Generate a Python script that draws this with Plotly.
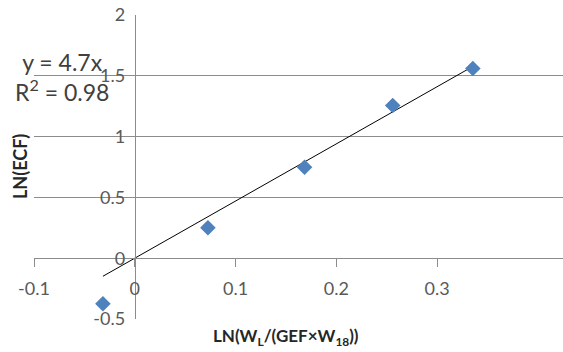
import plotly.graph_objects as go
import numpy as np

# Data
x_vals = [-0.0316, 0.0726, 0.1685, 0.256, 0.3355]
y_vals = [-0.375, 0.25, 0.748, 1.256, 1.56]
slope = 4.7
eq_text = "y = 4.7x<br>R<sup>2</sup> = 0.98"
x_ticks = [-0.1, 0, 0.1, 0.2, 0.3]
x_ticktext = ["-0.1", "0", "0.1", "0.2", "0.3"]
y_ticks = [-0.5, 0, 0.5, 1, 1.5, 2]
y_ticktext = ["-0.5", "0", "0.5", "1", "1.5", "2"]
x_title = "<b>LN(W<sub>L</sub>/(GEF×W<sub>18</sub>))</b>"
y_title = "<b>LN(ECF)</b>"

X_RANGE = [-0.1, 0.425]
Y_RANGE = [-0.5, 2.0]
FONT = "Lato"
GRID = "#8c8c8c"
TXT = "#595959"

fig = go.Figure()

# trendline through the origin, spanning the data x-range
xl = np.array([min(x_vals), max(x_vals)])
fig.add_trace(go.Scatter(x=xl, y=slope * xl, mode="lines",
                         line=dict(color="black", width=1), hoverinfo="skip"))

fig.add_trace(go.Scatter(x=x_vals, y=y_vals, mode="markers",
                         marker=dict(symbol="diamond", size=12, color="#4F81BD",
                                     line=dict(width=0))))

ypos_axis = (0 - X_RANGE[0]) / (X_RANGE[1] - X_RANGE[0])
xpos_axis = (0 - Y_RANGE[0]) / (Y_RANGE[1] - Y_RANGE[0])

fig.update_layout(
    width=563, height=352,
    margin=dict(l=34, r=0, t=15, b=33),
    paper_bgcolor="white", plot_bgcolor="white",
    showlegend=False,
    font=dict(family=FONT, color=TXT, size=18),
    xaxis=dict(range=X_RANGE, tickvals=x_ticks, ticktext=x_ticktext,
               showgrid=False, zeroline=False,
               showline=True, linecolor=GRID, linewidth=1,
               ticks="outside", ticklen=8, tickcolor=GRID, tickwidth=1,
               anchor="free", position=xpos_axis, ticklabelstandoff=6,
               tickfont=dict(family=FONT, size=18, color=TXT)),
    yaxis=dict(range=Y_RANGE, tickvals=y_ticks, ticktext=y_ticktext,
               showgrid=True, gridcolor=GRID, gridwidth=1, zeroline=False,
               showline=True, linecolor=GRID, linewidth=1, ticks="",
               anchor="free", position=ypos_axis, ticklabelstandoff=6,
               tickfont=dict(family=FONT, size=18, color=TXT)),
)

fig.add_annotation(text=x_title, xref="paper", yref="paper",
                   x=(286 - 34) / 529, y=(352 - 337 - 33) / 304,
                   showarrow=False, font=dict(family=FONT, size=17, color="#262626"),
                   xanchor="center", yanchor="middle")
fig.add_annotation(text=y_title, xref="paper", yref="paper",
                   x=(20 - 34) / 529, y=(352 - 167 - 33) / 304,
                   showarrow=False, textangle=-90,
                   font=dict(family=FONT, size=18, color="#262626"),
                   xanchor="center", yanchor="middle")
fig.add_annotation(text=eq_text, xref="paper", yref="paper",
                   x=(62 - 34) / 529, y=(352 - 77 - 33) / 304,
                   showarrow=False, align="center",
                   font=dict(family=FONT, size=23, color="#404040"),
                   xanchor="center", yanchor="middle")

fig.write_html("out.html")
